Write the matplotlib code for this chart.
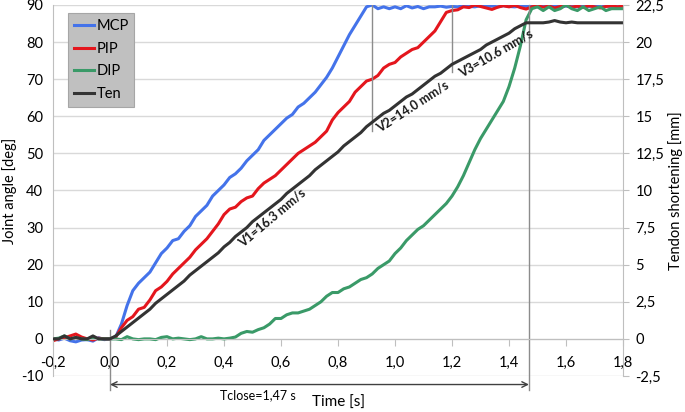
import matplotlib.pyplot as plt
import numpy as np
from matplotlib.ticker import FuncFormatter, MultipleLocator

plt.rcParams['font.family'] = ['Lato', 'DejaVu Sans']

time = np.linspace(-0.2, 1.8, 101)  # Time [s]

# Joint angles [deg]
mcp = [0, -0.3, 0.2, -0.5, -0.8, -0.3, -0.2, -0.6, 0.3, -0.2,
       0, 0.5, 4, 9, 13, 15, 16.5, 18, 20.5, 23,
       24.5, 26.5, 27, 29, 30.5, 33, 34.5, 36, 38.5, 40,
       41.5, 43.5, 44.5, 46, 48, 49.5, 51, 53.5, 55, 56.5,
       58, 59.5, 60.5, 62.5, 63.5, 65, 66.5, 68.5, 70.5, 73,
       76, 79, 82, 84.5, 87, 89.5, 90, 89, 89.5, 89,
       89.5, 89, 89.8, 89.2, 89.6, 89, 89.5, 89.5, 89.7, 89.4,
       89.6, 89.5, 89.8, 89.6, 89.5, 89.8, 89.6, 89.7, 89.5, 89.8,
       89.6, 89.5, 89.7, 89.6, 89.8, 89.5, 89.7, 89.6, 89.8, 89.5,
       89.7, 89.6, 89.5, 89.7, 89.6, 89.8, 89.5, 89.7, 89.6, 89.8,
       89.7]
pip = [-0.5, 0, 0.3, 0.8, 1.3, 0.5, 0, -0.3, 0.2, 0,
       0, 0.5, 3, 5, 6, 8, 8.5, 10.5, 13, 14,
       15.5, 17.5, 19, 20.5, 22, 24, 25.5, 27, 29, 31,
       33.5, 35, 35.5, 37, 38, 38.5, 40.5, 42, 43, 44,
       45.5, 47, 48.5, 50, 51, 52, 53, 54.5, 56, 59,
       61, 62.5, 64, 66.5, 68, 69.5, 70, 71, 73, 74,
       74.5, 76, 77, 78, 78.5, 80, 81.5, 83, 85.5, 88,
       88.5, 88.7, 89.5, 89.3, 90, 89.6, 89.2, 88.8, 89.4, 89.8,
       89.5, 89.9, 89.3, 88.9, 89.5, 89.8, 89.4, 89.7, 89.2, 89.6,
       89.9, 89.4, 89.7, 89.3, 89.8, 89.5, 89.2, 89.6, 89.8, 89.5,
       89.7]
dip = [0, 0.2, 0.8, 0, 0.3, 0, -0.2, 0.3, 0, 0,
       0, 0, -0.2, 0.6, 0, -0.2, 0, 0, -0.2, 0.4,
       0.6, 0, 0.2, 0, -0.2, 0, 0.6, 0, 0, 0.2,
       0, 0.2, 0.5, 1.5, 2, 1.8, 2.5, 3, 4, 5.5,
       5.5, 6.5, 7, 7, 7.5, 8, 9, 10, 11.5, 12.5,
       12.5, 13.5, 14, 15, 16, 16.5, 17.5, 19, 20, 21,
       23, 24.5, 26.5, 28, 29.5, 30.5, 32, 33.5, 35, 36.5,
       38.5, 41, 44, 47.5, 51, 54, 56.5, 59, 61.5, 64,
       68, 73, 79, 86, 89, 89.5, 88.5, 89.5, 88.5, 89,
       90, 89, 88.5, 89.5, 88.5, 89, 89.5, 88.5, 89, 89,
       89]

# Tendon shortening [mm]
ten = [0, 0, 0.2, 0, 0.1, 0, 0, 0.2, 0, 0,
       0, 0.2, 0.5, 0.8, 1.1, 1.4, 1.7, 2.0, 2.4, 2.7,
       3.0, 3.3, 3.6, 3.9, 4.3, 4.6, 4.9, 5.2, 5.5, 5.8,
       6.2, 6.5, 6.9, 7.2, 7.5, 7.9, 8.2, 8.5, 8.8, 9.1,
       9.4, 9.8, 10.1, 10.4, 10.7, 11.0, 11.4, 11.7, 12.0, 12.3,
       12.6, 13.0, 13.3, 13.6, 13.9, 14.3, 14.6, 14.9, 15.2, 15.4,
       15.7, 16.0, 16.3, 16.5, 16.8, 17.1, 17.4, 17.7, 17.9, 18.2,
       18.5, 18.7, 18.9, 19.1, 19.3, 19.5, 19.8, 20.0, 20.2, 20.4,
       20.6, 20.9, 21.1, 21.3, 21.3, 21.3, 21.3, 21.35, 21.45, 21.35,
       21.3, 21.35, 21.3, 21.3, 21.3, 21.3, 21.3, 21.3, 21.3, 21.3,
       21.3]

t_close = 1.47
phase_times = [0.92, 1.2]
phase_line_bottom = [56, 72]  # where the phase marker lines stop [deg]
speed_labels = ["V1=16.3 mm/s", "V2=14.0 mm/s", "V3=10.6 mm/s"]
speed_pos = [(0.568, 32.6, 40), (1.06, 62.5, 33), (1.354, 77.0, 30)]

# %% Figure
fig = plt.figure(figsize=(6.85, 4.12), dpi=100)
ax = fig.add_axes([0.0774, 0.0874, 0.8321, 0.9005])
ax2 = ax.twinx()

grid_c = "#d9d9d9"
axis_c = "#bfbfbf"
mark_c = "#8c8c8c"

l1, = ax.plot(time, mcp, color="#4473ea", lw=2.2, label="MCP")
l2, = ax.plot(time, pip, color="#e4161d", lw=2.2, label="PIP")
l3, = ax.plot(time, dip, color="#3a9a68", lw=2.2, label="DIP")
l4, = ax2.plot(time, ten, color="#333333", lw=2.2, label="Ten")

ax.set_xlim(-0.2, 1.8)
ax.set_ylim(-10, 90)
ax2.set_ylim(-2.5, 22.5)

ax.yaxis.set_major_locator(MultipleLocator(10))
ax2.yaxis.set_major_locator(MultipleLocator(2.5))
ax.xaxis.set_major_locator(MultipleLocator(0.2))

ax.xaxis.set_major_formatter(FuncFormatter(lambda v, p: f"{v:.1f}".replace(".", ",").replace("-0,0", "0,0")))
ax.yaxis.set_major_formatter(FuncFormatter(lambda v, p: f"{v:.0f}"))
ax2.yaxis.set_major_formatter(
    FuncFormatter(lambda v, p: f"{v:.0f}" if abs(v - round(v)) < 1e-6 else f"{v:.1f}".replace(".", ",")))

# horizontal gridlines only
ax.yaxis.grid(True, color=grid_c, lw=1.0)
ax.set_axisbelow(True)

# spines: x axis crosses at 0
ax.spines["bottom"].set_position(("data", 0))
ax.spines["bottom"].set_color(axis_c)
ax.spines["left"].set_color(axis_c)
ax.spines["top"].set_visible(False)
ax.spines["right"].set_visible(False)
ax2.spines["right"].set_color(axis_c)
for s in ["top", "left", "bottom"]:
    ax2.spines[s].set_visible(False)

ax.tick_params(axis="x", direction="out", length=5, color=axis_c, labelsize=10.5, pad=7)
ax.tick_params(axis="y", length=0, labelsize=10.5, pad=7)
ax2.tick_params(axis="y", direction="out", length=4, color=axis_c, labelsize=10.5, pad=5)

ax.set_ylabel("Joint angle [deg]", fontsize=10.5, labelpad=3)
ax2.set_ylabel("Tendon shortening [mm]", fontsize=10.5, labelpad=3)
fig.text(338 / 685, 1 - 403 / 412, "Time [s]", ha="center", va="center", fontsize=11)

# %% Phase markers and annotations
ax.plot([0, 0], [2.5, -13.7], color=mark_c, lw=1, clip_on=False)
ax.plot([t_close, t_close], [90, -13.7], color=mark_c, lw=1, clip_on=False)
for tp, yb in zip(phase_times, phase_line_bottom):
    ax.plot([tp, tp], [90, yb], color=mark_c, lw=1)

ax.annotate("", xy=(0, -12.3), xytext=(t_close, -12.3), annotation_clip=False,
            arrowprops=dict(arrowstyle="<->", color="#404040", lw=1, shrinkA=0, shrinkB=0))
fig.text(258 / 685, 1 - 395 / 412, "Tclose=1,47 s", ha="center", va="center", fontsize=9)

for txt, (tx, ty, rot) in zip(speed_labels, speed_pos):
    ax.text(tx, ty, txt, rotation=rot, ha="center", va="center", fontsize=9,
            fontweight="bold", color="#1a1a1a", rotation_mode="anchor")

# %% Legend
leg = ax2.legend(handles=[l1, l2, l3, l4], loc="upper left", bbox_to_anchor=(0.026, 0.978),
                 borderaxespad=0, fancybox=False, framealpha=1, facecolor="#c0c0c0",
                 edgecolor="#a6a6a6", fontsize=10.5, handlelength=1.4, handletextpad=0.15,
                 labelspacing=0.6, borderpad=0.4)
leg.get_frame().set_linewidth(0.8)

fig.savefig("out.png", dpi=100)
